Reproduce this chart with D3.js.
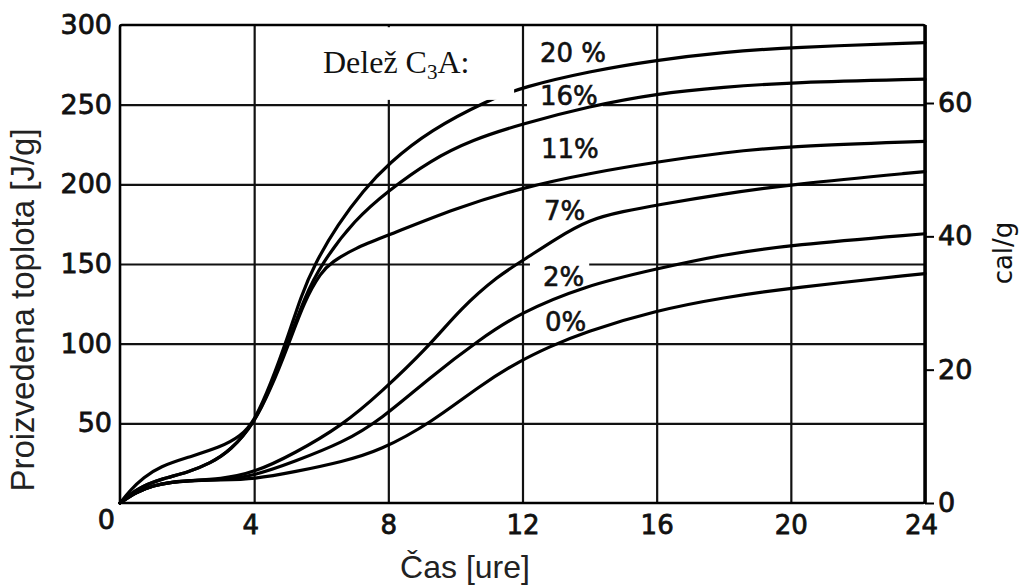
<!DOCTYPE html>
<html>
<head>
<meta charset="utf-8">
<script src="https://cdn.jsdelivr.net/npm/d3@7"></script>
<style>
  body { margin: 0; background: #fff; }
  svg { display: block; }
</style>
</head>
<body>
<svg id="chart" width="1020" height="586"></svg>
<script>
  // axis ticks
  var hourTicks = [4, 8, 12, 16, 20, 24];
  var heatTicks = [0, 50, 100, 150, 200, 250, 300];
  var heatGrid = [50, 100, 150, 200, 250];
  var calTicks = [0, 20, 40, 60];
  var JOULES_PER_CAL = 4.184;

  // C3A share of each curve
  var shareNames = ["20 %", "16%", "11%", "7%", "2%", "0%"];

  // heat released [J/g] against time [h]
  var heat20 = [[0,0],[0.3,8],[0.7,16],[1.2,23],[2,28.5],[3,35],[3.6,42],[4,51],[4.5,75],[5,104],[5.4,130],[5.8,150],
                [6.5,175],[7.25,196],[8,213],[9.25,234],[11,253],[12,261],[14,271],[16,278],[18,283],[20,286],[24,289]];
  var heat16 = [[0,0],[0.5,9],[1.2,15],[2,19],[2.7,25],[3.3,33],[4,50],[4.5,73],[5,100],[5.5,129],[6,150],
                [7,178],[8,196],[9.25,215],[10.5,228],[12,238],[14,249],[16,257],[18,261],[20,264],[24,266]];
  var heat11 = [[0,0],[0.5,9],[1.2,15],[2,19],[2.7,25],[3.3,33],[4,50],[4.5,72],[5,98],[5.5,127],[6,145],[6.3,151],
                [7,160],[8,168],[10,185],[12,198],[14,207],[16,214],[18,220],[20,224],[24,227]];
  var heat7 = [[0,0],[0.5,7],[1,11],[1.5,13],[2,14],[3,15],[4,19],[5.2,31],[6.65,49],[7.76,69],[9.2,98],[10.15,122],
               [11.3,143],[12,152],[13,166],[14,178],[15,183],[16,187],[18,194],[20,200],[24,208]];
  var heat2 = [[0,0],[0.5,7],[1,11],[1.5,13],[2,14],[3,14.5],[4,17],[5.2,26],[6.65,38],[7.76,52],[9.25,79],[10.75,103],
               [11.9,119],[13.8,136],[16,147],[18,156],[20,162],[24,169]];
  var heat0 = [[0,0],[0.5,7],[1,11],[1.5,13],[2,14],[3,14.5],[4,15],[5.2,19.5],[6.65,26],[7.76,33],[9.25,50],[10.75,74],
               [11.9,89],[12.8,98],[13.8,107],[16,121],[18,129],[20,135],[24,144]];
  var series = [heat20, heat16, heat11, heat7, heat2, heat0];

  // where each share label sits (hours, J/g of its baseline start)
  var labelSpots = [[12.52, 277], [12.52, 250], [12.55, 216.5], [12.64, 177.6], [12.61, 136.2], [12.67, 108]];
  // white patch behind the "Delež C3A:" caption: hours from/to, J/g from/to
  var calloutBox = [4.1, 11.75, 253, 298.6];

  var svg = d3.select("#chart");
  svg.append("rect").attr("width", 1020).attr("height", 586).attr("fill", "#fff");

  var x = d3.scaleLinear().domain([0, 24]).range([120, 925]);
  var y = d3.scaleLinear().domain([0, 300]).range([503, 25]);
  var yCal = d3.scaleLinear().domain([0, 300 / JOULES_PER_CAL]).range([503, 25]);

  var plotW = x(24) - x(0), plotH = y(0) - y(300);

  // grid
  svg.append("g")
      .attr("transform", "translate(0," + y(0) + ")")
      .call(d3.axisBottom(x).tickValues(hourTicks).tickSize(-plotH).tickFormat(""))
      .call(function(g) { g.select(".domain").remove(); })
      .selectAll("line").attr("stroke", "#111").attr("stroke-width", 2.2);
  svg.append("g")
      .attr("transform", "translate(" + x(0) + ",0)")
      .call(d3.axisLeft(y).tickValues(heatGrid).tickSize(-plotW).tickFormat(""))
      .call(function(g) { g.select(".domain").remove(); })
      .selectAll("line").attr("stroke", "#111").attr("stroke-width", 2.2);

  // white patches under the share labels go here (filled in after the labels are measured)
  var maskLayer = svg.append("g");

  // curves
  var line = d3.line()
      .x(function(d) { return x(d[0]); })
      .y(function(d) { return y(d[1]); })
      .curve(d3.curveBasis);

  svg.append("g").selectAll("path")
    .data(series)
    .join("path")
      .attr("fill", "none")
      .attr("stroke", "#000")
      .attr("stroke-width", 3.2)
      .attr("stroke-linejoin", "round")
      .attr("stroke-linecap", "round")
      .attr("d", line);

  // caption patch hides part of the grid and the 20% curve
  svg.append("rect")
      .attr("x", x(calloutBox[0]))
      .attr("y", y(calloutBox[3]))
      .attr("width", x(calloutBox[1]) - x(calloutBox[0]))
      .attr("height", y(calloutBox[2]) - y(calloutBox[3]))
      .attr("fill", "#fff");

  // frame
  svg.append("rect")
      .attr("x", x(0)).attr("y", y(300))
      .attr("width", plotW).attr("height", plotH)
      .attr("rx", 2)
      .attr("fill", "none").attr("stroke", "#000").attr("stroke-width", 2.6);
  svg.append("line")
      .attr("x1", x(24)).attr("x2", x(24)).attr("y1", y(300)).attr("y2", y(0))
      .attr("stroke", "#000").attr("stroke-width", 3.2);

  function tickFont(g, size) {
    g.attr("font-family", "DejaVu Sans").attr("font-size", size)
     .selectAll("text").attr("fill", "#111").attr("stroke", "#111").attr("stroke-width", 0.8);
  }

  // left ticks (J/g)
  var leftAxis = svg.append("g")
      .attr("transform", "translate(" + x(0) + ",0)")
      .call(d3.axisLeft(y).tickValues(heatTicks).tickSize(0).tickPadding(8));
  leftAxis.select(".domain").remove();
  tickFont(leftAxis, 27);
  leftAxis.selectAll(".tick text").filter(function(d) { return d === 0; })
      .attr("x", -5).attr("y", 17);

  // bottom ticks (hours)
  var bottomAxis = svg.append("g")
      .attr("transform", "translate(0," + y(0) + ")")
      .call(d3.axisBottom(x).tickValues(hourTicks).tickSize(0).tickPadding(13));
  bottomAxis.select(".domain").remove();
  tickFont(bottomAxis, 26);
  bottomAxis.selectAll(".tick text").filter(function(d) { return d === 4 || d === 24; })
      .attr("x", -4);

  // right ticks (cal/g)
  var rightAxis = svg.append("g")
      .attr("transform", "translate(" + x(24) + ",0)")
      .call(d3.axisRight(yCal).tickValues(calTicks).tickSize(9).tickPadding(4));
  rightAxis.select(".domain").remove();
  rightAxis.selectAll("line").attr("stroke", "#000").attr("stroke-width", 2);
  tickFont(rightAxis, 27);

  // share labels
  var labels = svg.append("g")
      .attr("font-family", "DejaVu Sans")
      .attr("font-size", 26)
      .selectAll("text")
      .data(shareNames)
      .join("text")
        .attr("x", function(d, i) { return x(labelSpots[i][0]); })
        .attr("y", function(d, i) { return y(labelSpots[i][1]); })
        .attr("fill", "#111")
        .attr("stroke", "#111")
        .attr("stroke-width", 0.6)
        .text(function(d) { return d; });

  labels.each(function() {
    var b = this.getBBox();
    maskLayer.append("rect")
        .attr("x", b.x - 13).attr("y", b.y)
        .attr("width", b.width + 18).attr("height", b.height)
        .attr("fill", "#fff");
  });

  // caption
  var caption = svg.append("text")
      .attr("x", 323).attr("y", 73)
      .attr("font-family", "Liberation Serif")
      .attr("font-size", 32)
      .attr("fill", "#111");
  caption.append("tspan").text("Delež C");
  caption.append("tspan").attr("font-size", 21).attr("dy", 6).text("3");
  caption.append("tspan").attr("dy", -6).text("A:");

  // axis titles
  svg.append("text")
      .attr("transform", "translate(34," + ((y(0) + y(300)) / 2 + 46) + ") rotate(-90)")
      .attr("text-anchor", "middle")
      .attr("font-family", "Liberation Sans")
      .attr("font-size", 33)
      .attr("fill", "#222")
      .text("Proizvedena toplota [J/g]");

  svg.append("text")
      .attr("x", 465).attr("y", 578)
      .attr("text-anchor", "middle")
      .attr("font-family", "Liberation Sans")
      .attr("font-size", 32)
      .attr("fill", "#222")
      .text("Čas [ure]");

  svg.append("text")
      .attr("transform", "translate(1012,253) rotate(-90)")
      .attr("text-anchor", "middle")
      .attr("font-family", "DejaVu Sans")
      .attr("font-size", 26)
      .attr("fill", "#111")
      .text("cal/g");
</script>
</body>
</html>
